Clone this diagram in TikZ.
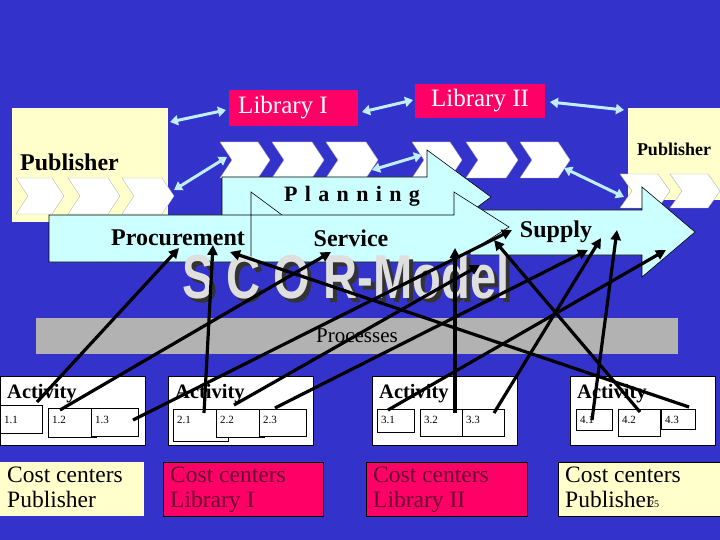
\documentclass[tikz,border=0pt]{standalone}
\usepackage{fontspec}
\setmainfont{Liberation Serif}
\setsansfont{Liberation Sans}
\usetikzlibrary{arrows.meta}
\definecolor{bg}{HTML}{3333CC}
\definecolor{pale}{HTML}{FFFFCC}
\definecolor{mag}{HTML}{FF0066}
\definecolor{cyanl}{HTML}{CCFFFF}
\definecolor{dblue}{HTML}{BFEFFF}
\definecolor{maroon}{HTML}{660033}
\tikzset{
  pub/.style={fill=pale,draw=none},
  lib/.style={fill=mag,draw=none},
  bigarrow/.style={fill=cyanl,draw=black,line width=0.6pt},
  chevron/.style={fill=white,draw=gray!60,line width=0.4pt},
  dbl/.style={draw=dblue,line width=3pt,{Triangle[length=8pt,width=10pt]}-{Triangle[length=8pt,width=10pt]}},
  blk/.style={draw=black,line width=3.2pt,-{Triangle[length=10pt,width=10pt]}},
  act/.style={fill=white,draw=black,line width=0.5pt},
  sub/.style={fill=white,draw=black,line width=0.6pt},
  subt/.style={font=\fontsize{11}{11}\selectfont,anchor=west,inner sep=2pt},
  lab/.style={font=\fontsize{24}{24}\selectfont\bfseries},
  cc/.style={font=\fontsize{23.5}{25}\selectfont,align=left,anchor=north west,inner sep=0pt},
}
\newcommand{\chev}[4]{\path[chevron] (#1,#2) -- ++(#3-12,0) -- ++(12,#4/2) -- ++(-12,#4/2) -- ++(-#3+12,0) -- ++(12,-#4/2) -- cycle;}
\begin{document}
\begin{tikzpicture}[x=1pt,y=-1pt]
\fill[bg] (0,0) rectangle (720,540);
\useasboundingbox (0,0) rectangle (720,540);
% publishers and libraries
\path[pub] (12,108) rectangle (168,222);
\node[lab,anchor=west,inner sep=0pt] (pubL) at (20,162) {Publisher};
\chev{16}{178}{48}{36}\chev{68}{178}{52}{36}\chev{122}{178}{52}{36}
\path[pub] (628,108) rectangle (720,200);
\node[font=\fontsize{18}{18}\selectfont\bfseries] (pubR) at (674,149) {Publisher};
\path[lib] (229,90) rectangle (358,126);
\node[font=\fontsize{25}{25}\selectfont,text=white] (lib1) at (283,108) {Library I};
\node[lib,minimum width=130pt,minimum height=34pt,font=\fontsize{25}{25}\selectfont,text=white] (lib2) at (480,101) {Library II};
\chev{220}{142}{50}{36}\chev{272}{142}{52}{36}\chev{326}{142}{52}{36}
\chev{412}{142}{50}{36}\chev{466}{142}{52}{36}\chev{520}{142}{50}{36}
\chev{620}{174}{50}{34}\chev{670}{174}{50}{34}
% big arrows
\path[bigarrow] (222,177) -- (427,177) -- (427,150) -- (491,197) -- (427,244) -- (427,217) -- (222,217) -- cycle;
\path[bigarrow] (470,210) -- (642,210) -- (642,187) -- (695,232) -- (642,277) -- (642,255) -- (470,255) -- cycle;
\path[bigarrow] (49,215) -- (251,215) -- (251,192) -- (282,215) -- (251,262) -- (49,262) -- cycle;
\path[bigarrow] (251,215) -- (454,215) -- (454,192) -- (509,227) -- (454,262) -- (251,262) -- cycle;
\node[font=\fontsize{22}{22}\selectfont\bfseries] (plan) at (352,196) {P\,\,l\,\,a\,\,n\,\,n\,\,i\,\,n\,\,g};
\node[lab] (proc) at (178,238) {Procurement};
\node[lab] (serv) at (351,238) {Service};
\node[lab] (supp) at (556,232) {Supply};
% SCOR text
\node[font=\fontsize{62}{62}\selectfont\sffamily\bfseries,text=gray!40!black,xscale=0.76] (scorS) at (350,280) {S C O R-Model};
\node[font=\fontsize{62}{62}\selectfont\sffamily\bfseries,text=gray!25,xscale=0.76] (scor) at (346,276) {S C O R-Model};
% processes
\node[fill=gray!60,minimum width=642pt,minimum height=36pt,font=\fontsize{21}{21}\selectfont] (procs) at (357,336) {Processes};
% activity boxes
\foreach \x/\n in {0/a1,168/a2,372/a3,570/a4}{
  \path[act] (\x,376) rectangle ++(145,69);
  \node[font=\fontsize{20.5}{20.5}\selectfont\bfseries,anchor=west,inner sep=0pt] (\n) at (\x+7,394) {Activity};
}
\foreach \xa/\ya/\xb/\yb/\t in {0/405/42/433/1.1, 48/408/96/437/1.2, 91/408/138/436/1.3,
  173/409/228/441/2.1, 216/409/264/437/2.2, 259/409/306/436/2.3,
  377/409/414/432/3.1, 420/409/462/436/3.2, 462/409/504/436/3.3,
  576/409/612/430/4.1, 618/409/660/436/4.2, 661/409/695/429/4.3}{
  \path[sub] (\xa,\ya) rectangle (\xb,\yb);
  \node[subt] at (\xa+2,420) {\t};
}
% cost centers
\path[pub] (0,462) rectangle (144,516);
\path[lib,draw=black] (163,462) rectangle (323,516);
\path[lib,draw=black] (366,462) rectangle (527,516);
\path[pub,draw=black] (558,462) rectangle (720,516);
\node[cc] (c1) at (7,467) {Cost centers\\Publisher};
\node[cc,text=maroon] (c2) at (170,467) {Cost centers\\Library I};
\node[cc,text=maroon] (c3) at (373,467) {Cost centers\\Library II};
\node[cc] (c4) at (565,467) {Cost centers\\Publisher};
\node[font=\fontsize{10}{10}\selectfont] (num) at (654,504) {25};
% double arrows
\draw[dbl] (170,122) -- (226,110);
\draw[dbl] (362,112) -- (413,100);
\draw[dbl] (550,102) -- (624,110);
\draw[dbl] (174,190) -- (227,157);
\draw[dbl] (372,170) -- (422,155);
\draw[dbl] (564,168) -- (624,197);
% black arrows
\draw[blk] (37,402) -- (179,248);
\draw[blk] (60,410) -- (331,252);
\draw[blk] (133,420) -- (512,230);
\draw[blk] (204,413) -- (213,245);
\draw[blk] (234,405) -- (480,265);
\draw[blk] (275,408) -- (588,250);
\draw[blk] (388,410) -- (666,250);
\draw[blk] (455,413) -- (455,248);
\draw[blk] (494,413) -- (601,238);
\draw[blk] (592,420) -- (617,230);
\draw[blk] (640,412) -- (494,240);
\draw[blk] (689,407) -- (230,252);
\end{tikzpicture}
\end{document}
